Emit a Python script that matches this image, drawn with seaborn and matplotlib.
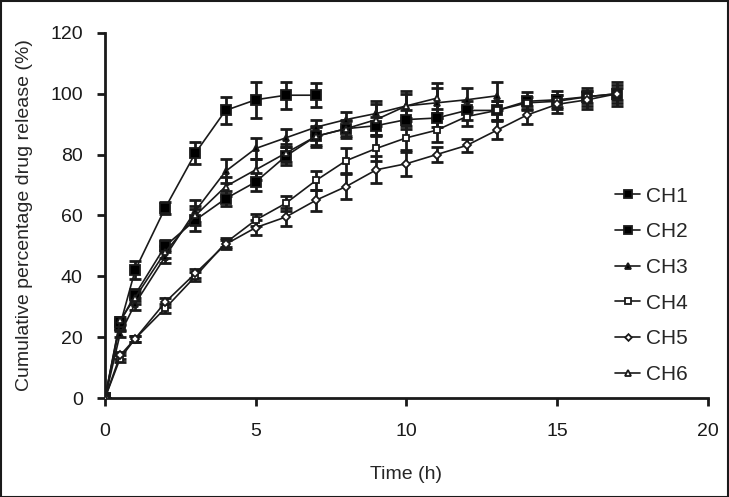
import numpy as np
import pandas as pd
import seaborn as sns
import matplotlib.pyplot as plt
from matplotlib.patches import Rectangle

t_all = [0, 0.5, 1, 2, 3, 4, 5, 6, 7, 8, 9, 10, 11, 12, 13, 14, 15, 16, 17]

ch1 = [0, 24, 42, 62.5, 80.5, 94.5, 98, 99.5, 99.5]
ch1_sd = [0, 1.5, 3, 2, 3.5, 4.5, 6, 4.5, 4]

ch2 = [0, 25, 34, 50, 58.5, 65.5, 71, 79.5, 86, 88.5, 89.5, 91.5, 92, 94.5, 94.5, 97.5, 98, 99, 100]
ch2_sd = [0, 1, 2, 2, 3.5, 2.5, 3, 3, 3, 2.5, 3, 3, 3, 3, 3, 3, 3, 3, 4]

ch3 = [0, 21, 31, 46.5, 61.5, 74.5, 82, 85.5, 89, 91.5, 93.5, 96, 97, 98, 99.3]
ch3_sd = [0, 1, 2, 2, 3.5, 4, 3.5, 3, 2.5, 2.5, 4, 4, 5, 4, 4.5]

ch4 = [0, 13, 19.5, 29.5, 40, 51, 58.5, 64, 71.5, 78, 82, 85.5, 88, 92.5, 94.5, 97, 97.5, 99, 100]
ch4_sd = [0, 1, 1, 1.5, 1.5, 1.5, 2, 2.5, 3, 4, 4, 4, 4, 3, 3, 2, 2, 2, 2]

ch5 = [0, 14, 19.5, 31.5, 41, 50.5, 56, 59.5, 65, 69.5, 75, 77, 80, 83, 88, 93, 96.5, 98, 100]
ch5_sd = [0, 1, 1, 1.5, 1.5, 1.5, 2.5, 3, 3.5, 4, 4.5, 4, 2.5, 2, 3, 3, 3, 3, 3]

ch6 = [0, 25.5, 33, 48, 60, 69.5, 75, 80.5, 86, 88.5, 91.5, 96, 98.5]
ch6_sd = [0, 1, 2, 2, 3, 3, 3.5, 3, 3.5, 3, 5, 5, 5]

series = [
    ("CH1", ch1, ch1_sd, "s", "k", 7),
    ("CH2", ch2, ch2_sd, "s", "k", 6.5),
    ("CH3", ch3, ch3_sd, "^", "k", 5),
    ("CH4", ch4, ch4_sd, "s", "w", 5),
    ("CH5", ch5, ch5_sd, "D", "w", 4),
    ("CH6", ch6, ch6_sd, "^", "w", 5),
]

sns.set_style("ticks")
plt.rcParams["font.family"] = ["Liberation Sans", "DejaVu Sans"]

fig = plt.figure(figsize=(7.29, 4.97), dpi=100)
ax = fig.add_axes([0.144, 0.199, 0.827, 0.735])

for name, vals, sd, mk, fc, ms in series:
    tt = t_all[:len(vals)]
    df = pd.DataFrame({"t": tt, "v": vals})
    ax.errorbar(tt, vals, yerr=sd, fmt="none", ecolor="#1a1a1a",
                elinewidth=2, capsize=4.5, capthick=2, zorder=2)
    sns.lineplot(data=df, x="t", y="v", ax=ax, color="#1a1a1a", lw=2,
                 marker=mk, markersize=ms, markerfacecolor=fc,
                 markeredgecolor="#1a1a1a", markeredgewidth=1.3,
                 label=name, zorder=3)

ax.set_xlim(0, 20)
ax.set_ylim(0, 120)
ax.set_xticks([0, 5, 10, 15, 20])
ax.set_yticks(range(0, 121, 20))
ax.tick_params(direction="out", length=6, width=2, labelsize=14, colors="#1a1a1a")
ax.tick_params(axis="x", pad=12)
ax.tick_params(axis="y", pad=10)
for s in ["left", "bottom"]:
    ax.spines[s].set_linewidth(2)
    ax.spines[s].set_color("#1a1a1a")
sns.despine(ax=ax)
ax.set_xlabel("Time (h)", fontsize=14, labelpad=19)
ax.set_ylabel("Cumulative percentage drug release (%)", fontsize=14, labelpad=12)

h, l = ax.get_legend_handles_labels()
for hh in h:
    hh.set_linewidth(1.2)
ax.legend(h, l, loc="upper left", bbox_to_anchor=(0.815, 0.63), frameon=False,
          fontsize=15, labelspacing=0.8, handlelength=1.2, handletextpad=0.3,
          markerscale=0.85)

fig.patches.append(Rectangle((0.001, 0.001), 0.997, 0.997, transform=fig.transFigure,
                             fill=False, edgecolor="#1a1a1a", lw=1.5))

fig.savefig("out.png", dpi=100)
